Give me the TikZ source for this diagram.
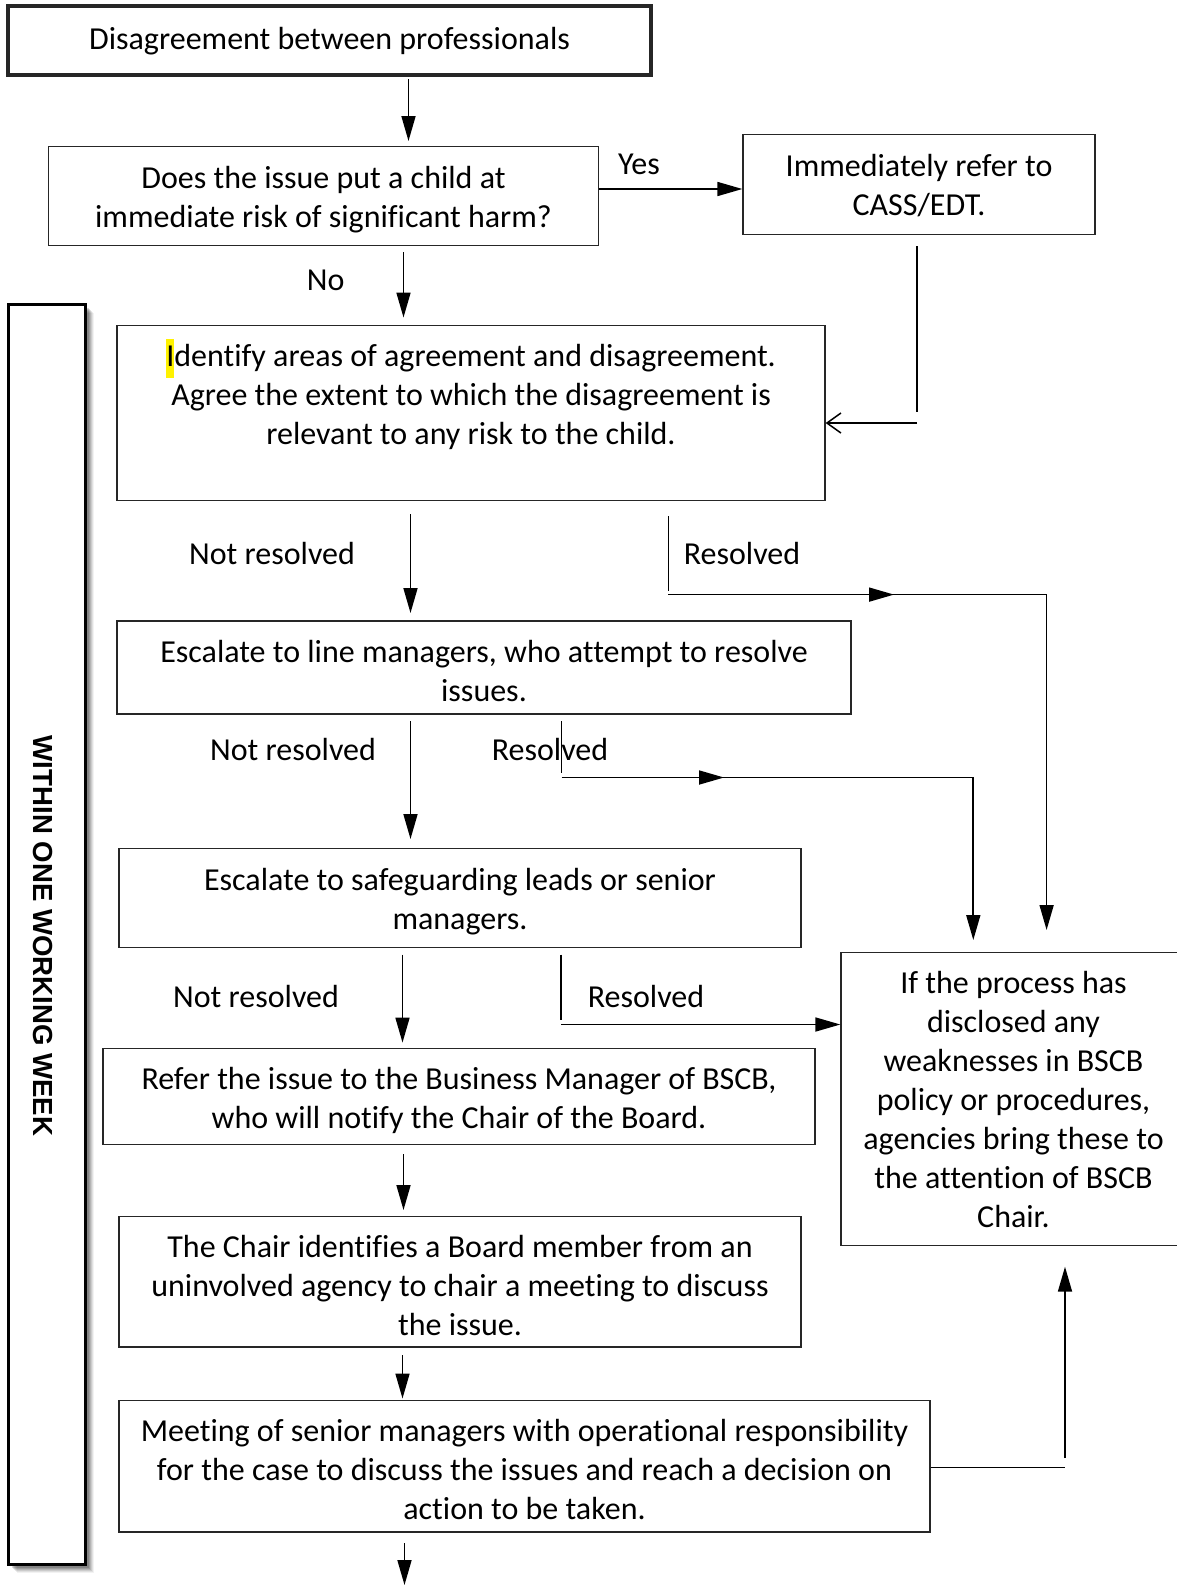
\documentclass[tikz,border=0pt]{standalone}
\usepackage{fontspec}
\setmainfont{Carlito}[Ligatures={NoCommon,NoRare,NoContextual}]
\newfontfamily\sidefont{Liberation Sans}
\usetikzlibrary{arrows.meta}
\begin{document}
\begin{tikzpicture}[x=1pt,y=-1pt,
  box/.style={draw=black!85,line width=1.3pt,inner sep=0pt},
  txt/.style={inner sep=0pt,align=center,font=\fontsize{32}{39}\selectfont},
  conn/.style={line width=1.7pt},
  arr/.style={conn,-{Triangle[length=25pt,width=14pt]}},
  openarr/.style={conn,-{Straight Barb[length=14pt,width=20pt,line width=1.5pt]}},
]
\useasboundingbox (0,0) rectangle (1176,1585);
\fill[white] (0,0) rectangle (1176,1585);

% side bar with shadow
\foreach \o/\op in {9/0.05,8/0.07,7/0.09,6/0.11,5/0.13,4/0.15}{
  \fill[black,opacity=\op] (8+\o,304+\o) rectangle (85+\o,1564+\o);
}
\node[draw=black,line width=3pt,fill=white,minimum width=77pt,minimum height=1260pt,inner sep=0pt] (side) at (46.5,934) {};
\node[rotate=-90,font=\sidefont\bfseries\fontsize{27.6}{30}\selectfont,inner sep=0pt] (sidetxt) at (43,936) {WITHIN ONE WORKING WEEK};

% boxes
\node[box,line width=3.5pt,minimum width=643pt,minimum height=69pt] (b1) at (329.5,40.5) {};
\node[txt] (b1t) at (329.5,41.5) {Disagreement between professionals};
\node[box,minimum width=550pt,minimum height=99pt] (b2) at (323.5,196) {};
\node[txt] (b2t) at (323.5,199.5) {Does the issue put a child at\\immediate risk of significant harm?};
\node[box,minimum width=352pt,minimum height=100pt] (b3) at (919,184.5) {};
\node[txt] (b3t) at (919,185.5) {Immediately refer to\\CASS/EDT.};
\node[box,minimum width=708pt,minimum height=175pt] (b4) at (471,413) {};
\node[txt] (b4t) at (471,394.5) {{\setlength{\fboxsep}{0pt}\colorbox{yellow}{\strut I}}dentify areas of agreement and disagreement.\\Agree the extent to which the disagreement is\\relevant to any risk to the child.};
\node[box,minimum width=734pt,minimum height=93pt] (b5) at (484,667.5) {};
\node[txt] (b5t) at (484,671.5) {Escalate to line managers, who attempt to resolve\\issues.};
\node[box,minimum width=682pt,minimum height=98.5pt] (b6) at (460,898) {};
\node[txt] (b6t) at (460,902) {Escalate to safeguarding leads or senior\\managers.};
\node[box,minimum width=345pt,minimum height=293pt] (br) at (1013.5,1099.2) {};
\node[txt] (brt) at (1013.5,1099.7) {If the process has\\disclosed any\\weaknesses in BSCB\\policy or procedures,\\agencies bring these to\\the attention of BSCB\\Chair.};
\node[box,minimum width=712pt,minimum height=96pt] (b7) at (459,1096.6) {};
\node[txt] (b7t) at (459,1100.6) {Refer the issue to the Business Manager of BSCB,\\who will notify the Chair of the Board.};
\node[box,minimum width=682pt,minimum height=130.5pt] (b8) at (460,1281.8) {};
\node[txt] (b8t) at (460,1285.8) {The Chair identifies a Board member from an\\uninvolved agency to chair a meeting to discuss\\the issue.};
\node[box,minimum width=811pt,minimum height=131.5pt] (b9) at (524.5,1466.3) {};
\node[txt] (b9t) at (524.5,1469.8) {Meeting of senior managers with operational responsibility\\for the case to discuss the issues and reach a decision on\\action to be taken.};

% labels
\node[txt] (lyes) at (639,164) {Yes};
\node[txt] (lno) at (325.6,280) {No};
\node[txt] (lnr1) at (272,553) {Not resolved};
\node[txt] (lr1) at (742,553) {Resolved};
\node[txt] (lnr2) at (293,749) {Not resolved};
\node[txt] (lr2) at (550,749) {Resolved};
\node[txt] (lnr3) at (256,996) {Not resolved};
\node[txt] (lr3) at (646,996) {Resolved};

% coordinates
\coordinate (a1s) at (408.5,79);   \coordinate (a1e) at (408.5,141);
\coordinate (ys) at (b2.east |- 0,189); \coordinate (ye) at (b3.west |- 0,189);
\coordinate (ns) at (403.5,252);   \coordinate (ne) at (403.5,317.5);
\coordinate (cs) at (917,246);     \coordinate (cm) at (917,412);
\coordinate (cc) at (917,423);     \coordinate (ce) at (b4.east |- 0,423);
\coordinate (n1s) at (410.5,514);  \coordinate (n1e) at (410.5,613);
\coordinate (r1a) at (668.4,516);  \coordinate (r1b) at (668.4,590.5);
\coordinate (r1c) at (668.4,594.6); \coordinate (r1m) at (767,594.6); \coordinate (r1t) at (894,594.6);
\coordinate (r1k) at (1046.6,594.6); \coordinate (r1e) at (1046.6,930);
\coordinate (n2s) at (410.5,721);  \coordinate (n2e) at (410.5,839);
\coordinate (r2a) at (561.5,721);  \coordinate (r2b) at (561.5,773);
\coordinate (r2c) at (561.5,777.5); \coordinate (r2m) at (651.7,777.5); \coordinate (r2t) at (724,777.5);
\coordinate (r2k) at (973.3,777.5); \coordinate (r2e) at (973.3,940);
\coordinate (n3s) at (402.5,954.6); \coordinate (n3e) at (402.5,1042.6);
\coordinate (r3a) at (561,954.6);  \coordinate (r3b) at (561,1020);
\coordinate (r3c) at (561,1024.5); \coordinate (r3e) at (br.west |- 0,1024.5);
\coordinate (d1s) at (403.5,1154); \coordinate (d1e) at (403.5,1210);
\coordinate (d2s) at (402.5,1355); \coordinate (d2e) at (402.5,1398.5);
\coordinate (us) at (b9.east |- 0,1467.5); \coordinate (uk) at (1065,1467.5);
\coordinate (uv) at (1065,1458); \coordinate (ue) at (1065,1266.7);
\coordinate (bs) at (404.5,1543);  \coordinate (be) at (404.5,1585);

% connectors
\draw[arr] (a1s) -- (a1e);
\draw[arr] (ys) -- (ye);
\draw[arr] (ns) -- (ne);
\draw[conn] (cs) -- (cm);
\draw[openarr] (cc) -- (ce);
\draw[arr] (n1s) -- (n1e);
\draw[conn] (r1a) -- (r1b);
\draw[arr] (r1c) -- (r1k) -- (r1e);
\draw[arr] (r1m) -- (r1t);
\draw[arr] (n2s) -- (n2e);
\draw[conn,line width=1.3pt] (r2a) -- (r2b);
\draw[arr] (r2c) -- (r2k) -- (r2e);
\draw[arr] (r2m) -- (r2t);
\draw[arr] (n3s) -- (n3e);
\draw[conn,line width=1.3pt] (r3a) -- (r3b);
\draw[arr] (r3c) -- (r3e);
\draw[arr] (d1s) -- (d1e);
\draw[arr] (d2s) -- (d2e);
\draw[conn] (us) -- (uk);
\draw[arr] (uv) -- (ue);
\draw[arr] (bs) -- (be);
\end{tikzpicture}
\end{document}
